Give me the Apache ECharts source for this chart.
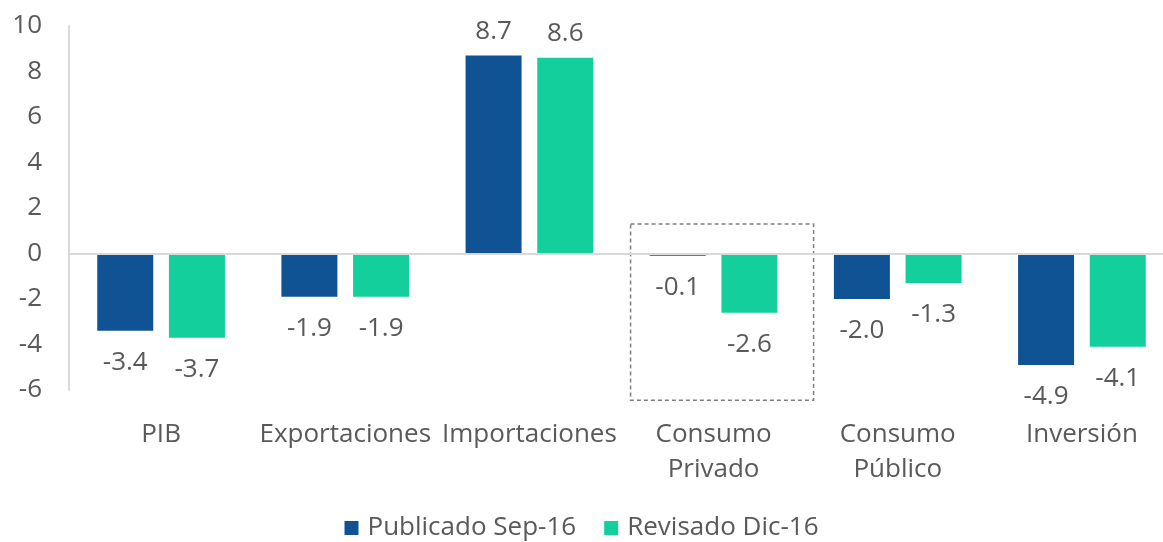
<!DOCTYPE html>
<html>
<head>
<meta charset="utf-8">
<script src="https://cdn.jsdelivr.net/npm/echarts@6/dist/echarts.min.js"></script>
<style>
  html, body { margin: 0; padding: 0; background: #fff; }
  #chart { width: 1163px; height: 542px; }
</style>
</head>
<body>
<div id="chart"></div>
<script>
var categories = ["PIB", "Exportaciones", "Importaciones", "Consumo\nPrivado", "Consumo\nPúblico", "Inversión"];
var publicado = [-3.4, -1.9, 8.7, -0.1, -2.0, -4.9];
var revisado = [-3.7, -1.9, 8.6, -2.6, -1.3, -4.1];
var seriesNames = ["Publicado Sep-16", "Revisado Dic-16"];
var yTicks = { min: -6, max: 10, interval: 2 };

var textColor = "#595959";
var fontFamily = "'Open Sans', 'Noto Sans', sans-serif";
var fontSize = 26;

function withLabels(values) {
  return values.map(function (v) {
    return {
      value: v,
      label: {
        position: v < 0 ? "bottom" : "top",
        distance: v < 0 ? 19 : 11
      }
    };
  });
}

var myChart = echarts.init(document.getElementById("chart"));
myChart.setOption({
  animation: false,
  textStyle: { fontFamily: fontFamily },
  grid: {
    left: 69, width: 1105, top: 26, bottom: 152,
    containLabel: false,
    outerBoundsMode: "none"
  },
  legend: {
    top: 510,
    left: "center",
    icon: "rect",
    itemWidth: 14,
    itemHeight: 14,
    itemGap: 28,
    textStyle: { color: textColor, fontSize: fontSize, fontFamily: fontFamily, padding: [0, 0, 0, 4] },
    data: seriesNames
  },
  xAxis: {
    type: "category",
    data: categories,
    axisLine: { show: false, onZero: false },
    axisTick: { show: false },
    axisLabel: {
      color: textColor,
      fontSize: fontSize,
      lineHeight: 35,
      margin: 27,
      interval: 0
    }
  },
  yAxis: {
    type: "value",
    min: yTicks.min,
    max: yTicks.max,
    interval: yTicks.interval,
    axisLine: { show: true, lineStyle: { color: "#d9d9d9", width: 2 } },
    axisTick: { show: false },
    splitLine: { show: false },
    axisLabel: { color: textColor, fontSize: fontSize, margin: 27 }
  },
  series: [
    {
      name: seriesNames[0],
      type: "bar",
      barWidth: 56,
      barGap: "28%",
      itemStyle: { color: "#0f5394" },
      label: {
        show: true,
        color: textColor,
        fontSize: fontSize,
        formatter: function (p) { return p.value.toFixed(1); }
      },
      data: withLabels(publicado),
      markLine: {
        silent: true,
        symbol: "none",
        label: { show: false },
        lineStyle: { color: "#d9d9d9", width: 2, type: "solid" },
        data: [{ yAxis: 0 }]
      }
    },
    {
      name: seriesNames[1],
      type: "bar",
      barWidth: 56,
      barGap: "28%",
      itemStyle: { color: "#12cf9b" },
      label: {
        show: true,
        color: textColor,
        fontSize: fontSize,
        formatter: function (p) { return p.value.toFixed(1); }
      },
      data: withLabels(revisado)
    }
  ]
});

// dashed highlight box around Consumo Privado
var topLeft = myChart.convertToPixel({ gridIndex: 0 }, [categories[3], 1.3]);
var bottom = myChart.convertToPixel({ gridIndex: 0 }, [categories[3], -6.45]);
myChart.setOption({
  graphic: [{
    type: "rect",
    silent: true,
    shape: { x: topLeft[0] - 83, y: topLeft[1], width: 183, height: bottom[1] - topLeft[1] },
    style: { fill: "none", stroke: "#7f7f7f", lineWidth: 1.5, lineDash: [4, 3] }
  }]
});
</script>
</body>
</html>
